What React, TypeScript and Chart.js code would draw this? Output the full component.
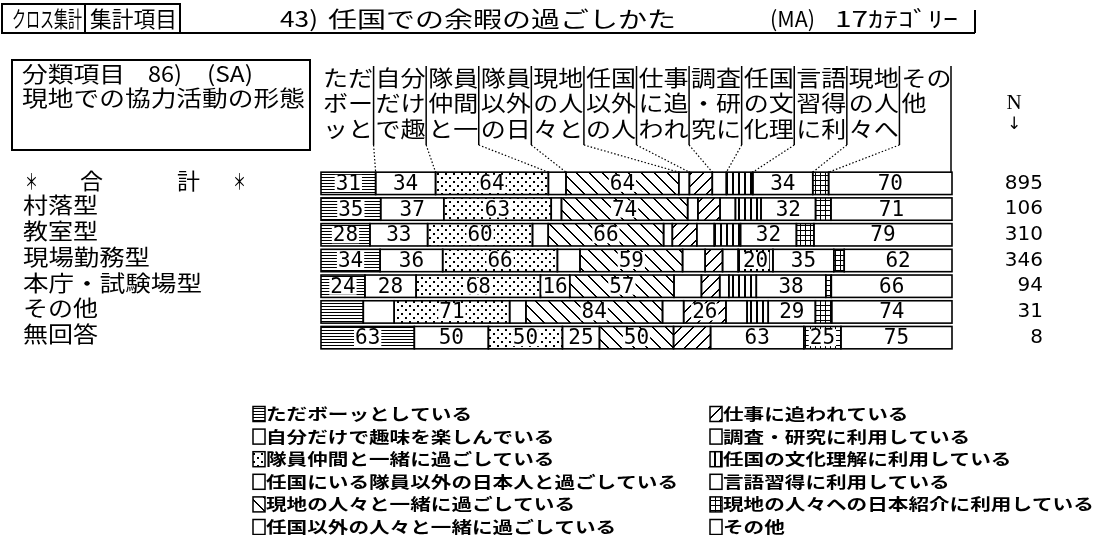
import React, { useEffect, useRef } from "react";
import { Chart, registerables } from "chart.js";
Chart.register(...registerables);

// ---------- data ----------
const rowLabels = ["＊合計＊", "村落型", "教室型", "現場勤務型", "本庁・試験場型", "その他", "無回答"];
const rowN = [895, 106, 310, 346, 94, 31, 8];

const categoryNames = [
  "ただボーッとしている",
  "自分だけで趣味を楽しんでいる",
  "隊員仲間と一緒に過ごしている",
  "任国にいる隊員以外の日本人と過ごしている",
  "現地の人々と一緒に過ごしている",
  "任国以外の人々と一緒に過ごしている",
  "仕事に追われている",
  "調査・研究に利用している",
  "任国の文化理解に利用している",
  "言語習得に利用している",
  "現地の人々への日本紹介に利用している",
  "その他",
];
const headerNames = [
  "ただボーッと", "自分だけで趣", "隊員仲間と一", "隊員以外の日", "現地の人々と", "任国以外の人",
  "仕事に追われ", "調査・研究に", "任国の文化理", "言語習得に利", "現地の人々へ", "その他",
];

// percentages per category, rows in order of rowLabels
const vBotto = [31, 35, 28, 34, 24, 26, 63];
const vHobby = [34, 37, 33, 36, 28, 19, 50];
const vMembers = [64, 63, 60, 66, 68, 71, 50];
const vJapanese = [10, 6, 9, 13, 16, 10, 25];
const vLocals = [64, 74, 66, 59, 57, 84, 50];
const vForeign = [6, 6, 5, 13, 15, 13, 0];
const vWork = [13, 13, 14, 10, 10, 26, 25];
const vResearch = [8, 9, 10, 9, 5, 13, 63];
const vCulture = [15, 15, 15, 20, 15, 13, 0];
const vLanguage = [34, 32, 32, 35, 38, 29, 0];
const vIntro = [9, 9, 10, 6, 3, 10, 25];
const vOther = [70, 71, 79, 62, 66, 74, 75];

const series = [vBotto, vHobby, vMembers, vJapanese, vLocals, vForeign, vWork, vResearch, vCulture, vLanguage, vIntro, vOther];
const labelMin = 16;
const hiddenLabels = [[5, 0], [5, 1], [6, 6]];

const patternKinds = ["hlines", "white", "dots", "white", "back", "white", "slash", "white", "vlines", "white", "grid", "white"];

// ---------- helpers ----------
const JF = '"Noto Sans CJK JP", "Noto Sans CJK SC", sans-serif';

function makePattern(kind: string): any {
  if (kind === "white") return "#ffffff";
  const c = document.createElement("canvas");
  const g = c.getContext("2d")!;
  const set = (w: number, h: number) => {
    c.width = w; c.height = h;
    g.fillStyle = "#fff"; g.fillRect(0, 0, w, h); g.fillStyle = "#000";
  };
  if (kind === "hlines") { set(4, 3); g.fillRect(0, 0, 4, 1); }
  else if (kind === "dots") { set(8, 8); g.fillRect(1, 1, 2, 2); g.fillRect(5, 5, 2, 2); }
  else if (kind === "back") { const s = 13; set(s, s); for (let i = 0; i < s; i++) { g.fillRect(i, i, 1, 1); g.fillRect((i + 1) % s, i, 1, 1); } }
  else if (kind === "slash") { const s = 12; set(s, s); for (let i = 0; i < s; i++) { g.fillRect(s - 1 - i, i, 1, 1); g.fillRect((s - i) % s, i, 1, 1); } }
  else if (kind === "vlines") { set(6, 4); g.fillRect(0, 0, 2, 4); }
  else if (kind === "grid") { set(5, 5); g.fillRect(0, 0, 5, 1); g.fillRect(0, 0, 1, 5); }
  return g.createPattern(c, "repeat");
}

function fit(ctx: CanvasRenderingContext2D, text: string, x: number, y: number, w: number, font: string) {
  ctx.save();
  ctx.font = font;
  const m = ctx.measureText(text).width || 1;
  ctx.translate(x, y);
  ctx.scale(w / m, 1);
  ctx.textAlign = "left";
  ctx.textBaseline = "middle";
  ctx.fillStyle = "#000";
  ctx.fillText(text, 0, 0);
  ctx.restore();
}

export default function App() {
  const ref = useRef<HTMLCanvasElement>(null);
  useEffect(() => {
    const patterns = patternKinds.map(makePattern);
    const sums = rowN.map((_, r) => series.reduce((a, s) => a + s[r], 0));
    const datasets = series.map((s, i) => ({
      label: categoryNames[i],
      data: s.map((v, r) => (v === 0 ? null : (v / sums[r]) * 100)),
      backgroundColor: patterns[i],
      borderWidth: 0,
      barPercentage: 0.87,
      categoryPercentage: 1,
      clip: false as any,
    }));

    const deco = {
      id: "deco",
      beforeDraw(chart: any) {
        const c = chart.ctx;
        c.save(); c.fillStyle = "#fff"; c.fillRect(0, 0, chart.width, chart.height); c.restore();
      },
      afterDatasetsDraw(chart: any) {
        const c: CanvasRenderingContext2D = chart.ctx;
        c.save();
        c.strokeStyle = "#000";
        c.lineWidth = 1.6;
        series.forEach((s, i) => {
          const meta = chart.getDatasetMeta(i);
          meta.data.forEach((el: any, r: number) => {
            if (s[r] === 0) return;
            const p = el.getProps(["x", "base", "y", "height"], true);
            const l = Math.min(p.x, p.base), w = Math.abs(p.x - p.base);
            c.strokeRect(l, p.y - p.height / 2, w, p.height);
          });
        });
        // value labels
        c.font = '21px "DejaVu Sans Mono", monospace';
        c.textAlign = "center";
        c.textBaseline = "middle";
        series.forEach((s, i) => {
          const meta = chart.getDatasetMeta(i);
          meta.data.forEach((el: any, r: number) => {
            const v = s[r];
            if (v < labelMin) return;
            if (hiddenLabels.some(([hr, hc]) => hr === r && hc === i)) return;
            const p = el.getProps(["x", "base", "y", "height"], true);
            const cx = (p.x + p.base) / 2;
            const t = String(v);
            const tw = c.measureText(t).width;
            c.fillStyle = "#fff";
            c.fillRect(cx - tw / 2 - 1, p.y - 8.5, tw + 2, 17);
            c.fillStyle = "#000";
            c.fillText(t, cx, p.y + 1);
          });
        });
        c.restore();
      },
      afterDraw(chart: any) {
        const c: CanvasRenderingContext2D = chart.ctx;
        const area = chart.chartArea;
        c.save();
        c.strokeStyle = "#000";
        c.fillStyle = "#000";
        const F22 = `22px ${JF}`;

        // title row
        c.lineWidth = 2;
        c.strokeRect(2, 4, 83, 29);
        c.strokeRect(85, 4, 95, 29);
        c.beginPath(); c.moveTo(180, 33); c.lineTo(975, 33); c.moveTo(975, 10); c.lineTo(975, 33); c.stroke();
        fit(c, "クロス集計", 12, 19, 70, F22);
        fit(c, "集計項目", 90, 19, 87, F22);
        fit(c, "43)", 280, 19, 38, F22);
        fit(c, "任国での余暇の過ごしかた", 328, 19, 348, F22);
        fit(c, "(MA)", 770, 19, 45, F22);
        fit(c, "17ｶﾃｺﾞﾘｰ", 835, 19, 123, F22);

        // classification box
        c.strokeRect(12, 60, 298, 90);
        fit(c, "分類項目", 22, 74, 103, F22);
        fit(c, "86)", 148, 74, 34, F22);
        fit(c, "(SA)", 207, 74, 46, F22);
        fit(c, "現地での協力活動の形態", 22, 98, 283, F22);

        // header columns
        const colW = (area.right - area.left) / headerNames.length;
        const lineYs = [78, 103, 129];
        const meta0 = chart.getDatasetMeta(0);
        const p0 = meta0.data[0].getProps(["y", "height"], true);
        const barTop0 = p0.y - p0.height / 2;
        headerNames.forEach((h, k) => {
          const left = area.left + k * colW;
          for (let li = 0; li < 3; li++) {
            const chunk = h.slice(li * 2, li * 2 + 2);
            if (!chunk) continue;
            fit(c, chunk, left + 2, lineYs[li], chunk.length * 25, F22);
          }
          if (k > 0) {
            c.lineWidth = 1.5;
            c.setLineDash([]);
            c.beginPath(); c.moveTo(left, 66); c.lineTo(left, 145); c.stroke();
            const segX = chart.getDatasetMeta(k).data[0].getProps(["base"], true).base;
            c.lineWidth = 1.2;
            c.setLineDash([1.5, 2]);
            c.beginPath(); c.moveTo(left, 145); c.lineTo(segX, barTop0); c.stroke();
            c.setLineDash([]);
          }
        });
        c.lineWidth = 1.5;
        c.beginPath(); c.moveTo(area.right - 1, 66); c.lineTo(area.right - 1, barTop0); c.stroke();

        // row labels and N
        meta0.data.forEach((el: any, r: number) => {
          const y = el.getProps(["y"], true).y;
          if (r === 0) {
            fit(c, "＊", 25, y - 3, 13, F22);
            fit(c, "合", 80, y - 3, 23, F22);
            fit(c, "計", 177, y - 3, 23, F22);
            fit(c, "＊", 233, y - 3, 13, F22);
          } else {
            const t = rowLabels[r];
            fit(c, t, 23, y - 4, t.length * 26 - 3, F22);
          }
          c.font = '20px "DejaVu Sans", sans-serif';
          c.textAlign = "right";
          c.textBaseline = "middle";
          c.fillText(String(rowN[r]), 1043, y);
        });
        c.font = '21px "Liberation Serif", serif';
        c.textAlign = "center";
        c.textBaseline = "middle";
        c.fillText("N", 1014, 103);
        c.font = '17px "DejaVu Sans", sans-serif';
        c.fillText("↓", 1014, 125);

        // legend
        const F16 = `bold 16px ${JF}`;
        categoryNames.forEach((name, i) => {
          const col = i < 6 ? 0 : 1;
          const ri = i % 6;
          const cy = 414 + ri * 22.6;
          const sx = col === 0 ? 253 : 710;
          c.fillStyle = patterns[i];
          c.fillRect(sx, cy - 7.5, 12, 15);
          c.lineWidth = 1.5;
          c.strokeRect(sx, cy - 7.5, 12, 15);
          c.fillStyle = "#000";
          fit(c, name, sx + 13, cy, name.length * 20.6, F16);
        });
        c.restore();
      },
    };

    const chart = new Chart(ref.current!, {
      type: "bar",
      data: { labels: rowLabels, datasets },
      options: {
        indexAxis: "y",
        animation: false,
        responsive: false,
        maintainAspectRatio: false,
        devicePixelRatio: 1,
        events: [],
        layout: { padding: { left: 321, right: 148, top: 170.5, bottom: 184.5 } },
        plugins: { legend: { display: false }, tooltip: { enabled: false } },
        scales: {
          x: { type: "linear", stacked: true, min: 0, max: 100, display: false },
          y: { type: "category", stacked: true, display: false },
        },
      } as any,
      plugins: [deco],
    });
    return () => chart.destroy();
  }, []);

  return (
    <div style={{ position: "absolute", left: 0, top: 0, width: 1100, height: 535, background: "#fff" }}>
      <canvas ref={ref} width={1100} height={535} style={{ display: "block", width: 1100, height: 535 }} />
    </div>
  );
}
